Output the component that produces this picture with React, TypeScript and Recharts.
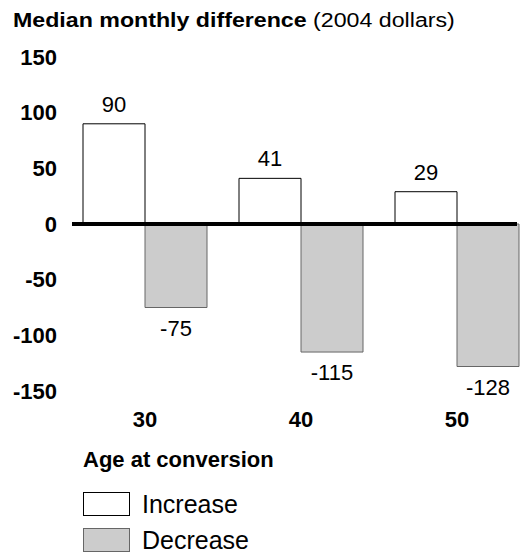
import { Bar, BarChart, LabelList, ReferenceLine, XAxis, YAxis } from "recharts";

const ages = ["30", "40", "50"];
const increase = [90, 41, 29];
const decrease = [-75, -115, -128];
const yTicks = [-150, -100, -50, 0, 50, 100, 150];

const data = ages.map((age, i) => ({ age, increase: increase[i], decrease: decrease[i] }));

const FONT = '"Liberation Sans", Arial, Helvetica, sans-serif';
const series = [
  { key: "increase", name: "Increase", fill: "#ffffff", stroke: "#000" },
  { key: "decrease", name: "Decrease", fill: "#cccccc", stroke: "#666" },
];

function box(props: any) {
  const vb = props.viewBox ?? props;
  return { x: Number(vb.x), y: Number(vb.y), width: Number(vb.width), height: Number(vb.height) };
}

const TopLabel = (props: any) => {
  const { x, y, width, height } = box(props);
  const top = Math.min(y, y + height);
  return (
    <text x={x + width / 2} y={top - 12} textAnchor="middle" fontSize={22} fontFamily={FONT} fill="#000">
      {props.value}
    </text>
  );
};

const BottomLabel = (props: any) => {
  const { x, y, width, height } = box(props);
  const bottom = Math.max(y, y + height);
  return (
    <text x={x + width / 2} y={bottom + 28} textAnchor="middle" fontSize={22} fontFamily={FONT} fill="#000">
      {props.value}
    </text>
  );
};

function ChartLegend() {
  return (
    <svg width={300} height={115} style={{ position: "absolute", left: 0, top: 440 }}>
      <text x={83} y={27} fontSize={22} fontWeight="bold" fontFamily={FONT} fill="#000">
        Age at conversion
      </text>
      {series.map((s, i) => (
        <g key={s.key}>
          <rect x={83.5} y={52.5 + i * 36} width={46} height={23} fill={s.fill} stroke={s.stroke} />
          <text x={142} y={73 + i * 36} fontSize={25} fontFamily={FONT} fill="#000">
            {s.name}
          </text>
        </g>
      ))}
    </svg>
  );
}

export default function App() {
  return (
    <div style={{ position: "absolute", left: 0, top: 0, width: 522, height: 555, background: "#fff" }}>
      <svg width={522} height={40} style={{ position: "absolute", left: 0, top: 0 }}>
        <text transform="translate(13,27) scale(1.16,1)" fontSize={20} fontFamily={FONT} fill="#000">
          <tspan fontWeight="bold">Median monthly difference</tspan>
          <tspan> (2004 dollars)</tspan>
        </text>
      </svg>
      <BarChart
        width={522}
        height={555}
        data={data}
        margin={{ top: 57, right: 5, bottom: 124, left: 0 }}
        barGap={0}
      >
        <YAxis
          width={72}
          domain={[-150, 150]}
          ticks={yTicks}
          interval={0}
          axisLine={false}
          tickLine={false}
          tickSize={0}
          tickMargin={15}
          tick={{ fontSize: 22, fontWeight: "bold", fontFamily: FONT, fill: "#000" }}
        />
        <XAxis
          dataKey="age"
          height={40}
          interval={0}
          axisLine={false}
          tickLine={false}
          tickSize={0}
          tickMargin={20}
          padding={{ left: -5, right: -18 }}
          tick={{ fontSize: 22, fontWeight: "bold", fontFamily: FONT, fill: "#000" }}
        />
        {series.map((s) => (
          <Bar
            key={s.key}
            dataKey={s.key}
            name={s.name}
            fill={s.fill}
            stroke={s.stroke}
            strokeWidth={1}
            barSize={62}
            isAnimationActive={false}
          >
            <LabelList dataKey={s.key} content={s.key === "increase" ? TopLabel : BottomLabel} />
          </Bar>
        ))}
        <ReferenceLine y={0} stroke="#000" strokeWidth={4} ifOverflow="visible" />
      </BarChart>
      <ChartLegend />
    </div>
  );
}
